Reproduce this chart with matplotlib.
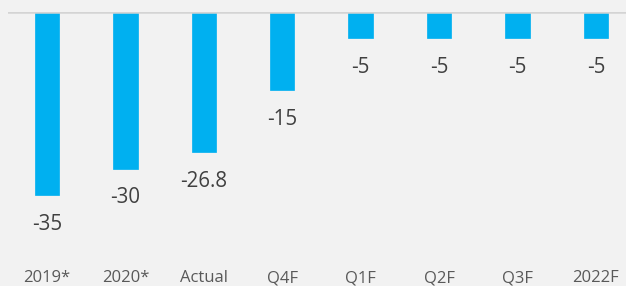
import matplotlib
matplotlib.use("Agg")
import matplotlib.pyplot as plt

categories = ["2019*", "2020*", "Actual", "Q4F", "Q1F", "Q2F", "Q3F", "2022F"]
values = [-35, -30, -26.8, -15, -5, -5, -5, -5]
labels = ["-35", "-30", "-26.8", "-15", "-5", "-5", "-5", "-5"]

W, H = 626, 286
fig = plt.figure(figsize=(W / 100, H / 100), dpi=100, facecolor="#f2f2f2")
left_px, right_px, top_px, bottom_px = 8, 626, 12, 262
ax = fig.add_axes([left_px / W, 1 - bottom_px / H, (right_px - left_px) / W, (bottom_px - top_px) / H])
ax.set_facecolor("#f2f2f2")

x = list(range(len(categories)))
ax.bar(x, values, width=0.31, color="#00b0f0", edgecolor="#00b0f0", linewidth=0.5, zorder=2)

ax.set_xlim(-0.497, 7.385)
ax.set_ylim(-(bottom_px - top_px) / 5.23, 0)

ax.axhline(0, color="#d4d4d4", linewidth=1.8, zorder=3)

font = ["Open Sans", "DejaVu Sans"]
for xi, v, lab in zip(x, values, labels):
    ax.annotate(lab, (xi, v), xytext=(0, -29), textcoords="offset pixels",
                ha="center", va="center", fontsize=14.8, color="#404040", family=font)

ax.set_xticks(x)
ax.set_xticklabels(categories, fontsize=12, color="#595959", family=font)
ax.tick_params(axis="x", length=0, pad=6)
ax.set_yticks([])
for s in ax.spines.values():
    s.set_visible(False)

fig.savefig("out.png", dpi=100, facecolor="#f2f2f2")
